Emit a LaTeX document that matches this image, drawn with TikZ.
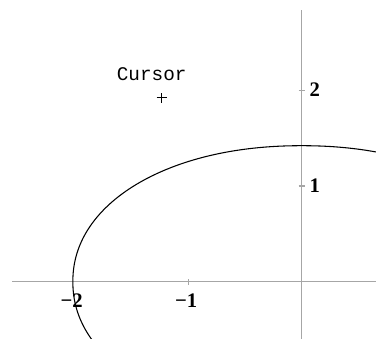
\documentclass[tikz,border=0pt]{standalone}
\usepackage{fontspec}
\setmainfont{Liberation Serif}
\setmonofont{Liberation Mono}
\usetikzlibrary{arrows.meta, calc, positioning}

\begin{document}
\begin{tikzpicture}[x=84.98pt, y=71.85pt,
  axis/.style={draw=gray!70, line width=0.9pt},
  ticklbl/.style={font=\fontsize{15.5}{17}\selectfont\bfseries, inner sep=1pt}]
  \useasboundingbox (-2.663,-0.598) rectangle (0.656,2.941);
  \clip (-2.663,-0.598) rectangle (0.656,2.941);
  \draw[axis] (-2.557,0)--(0.656,0);
  \draw[axis] (0,-0.598)--(0,2.836);
  \draw[axis] (-1,-0.031)--(-1,0.031);
  \foreach \y in {1,2} \draw[axis] (-0.027,\y)--(0.027,\y);
  \draw[black, line width=0.8pt, samples=240, domain=55:215, variable=\t]
    plot ({2.02*cos(\t)*exp(-0.048*ln(abs(cos(\t))+0.00001))},
          {1.42*sin(\t)*exp(-0.048*ln(abs(sin(\t))+0.00001))});
  \node[ticklbl] (xm2) at (-2.03,-0.2) {−2};
  \node[ticklbl] (xm1) at (-1.02,-0.2) {−1};
  \node[ticklbl, anchor=west] (y1) at (0.055,1) {1};
  \node[ticklbl, anchor=west] (y2) at (0.055,2) {2};
  \coordinate (cur) at (-1.236,1.921);
  \draw[line width=0.8pt] ($(cur)+(-3.75pt,0)$) -- ($(cur)+(3.75pt,0)$);
  \draw[line width=0.8pt] ($(cur)+(0,-3.75pt)$) -- ($(cur)+(0,3.75pt)$);
  \node[font=\ttfamily\fontsize{14.5}{16}\selectfont] (curlbl) at (-1.324,2.168) {Cursor};
\end{tikzpicture}
\end{document}
